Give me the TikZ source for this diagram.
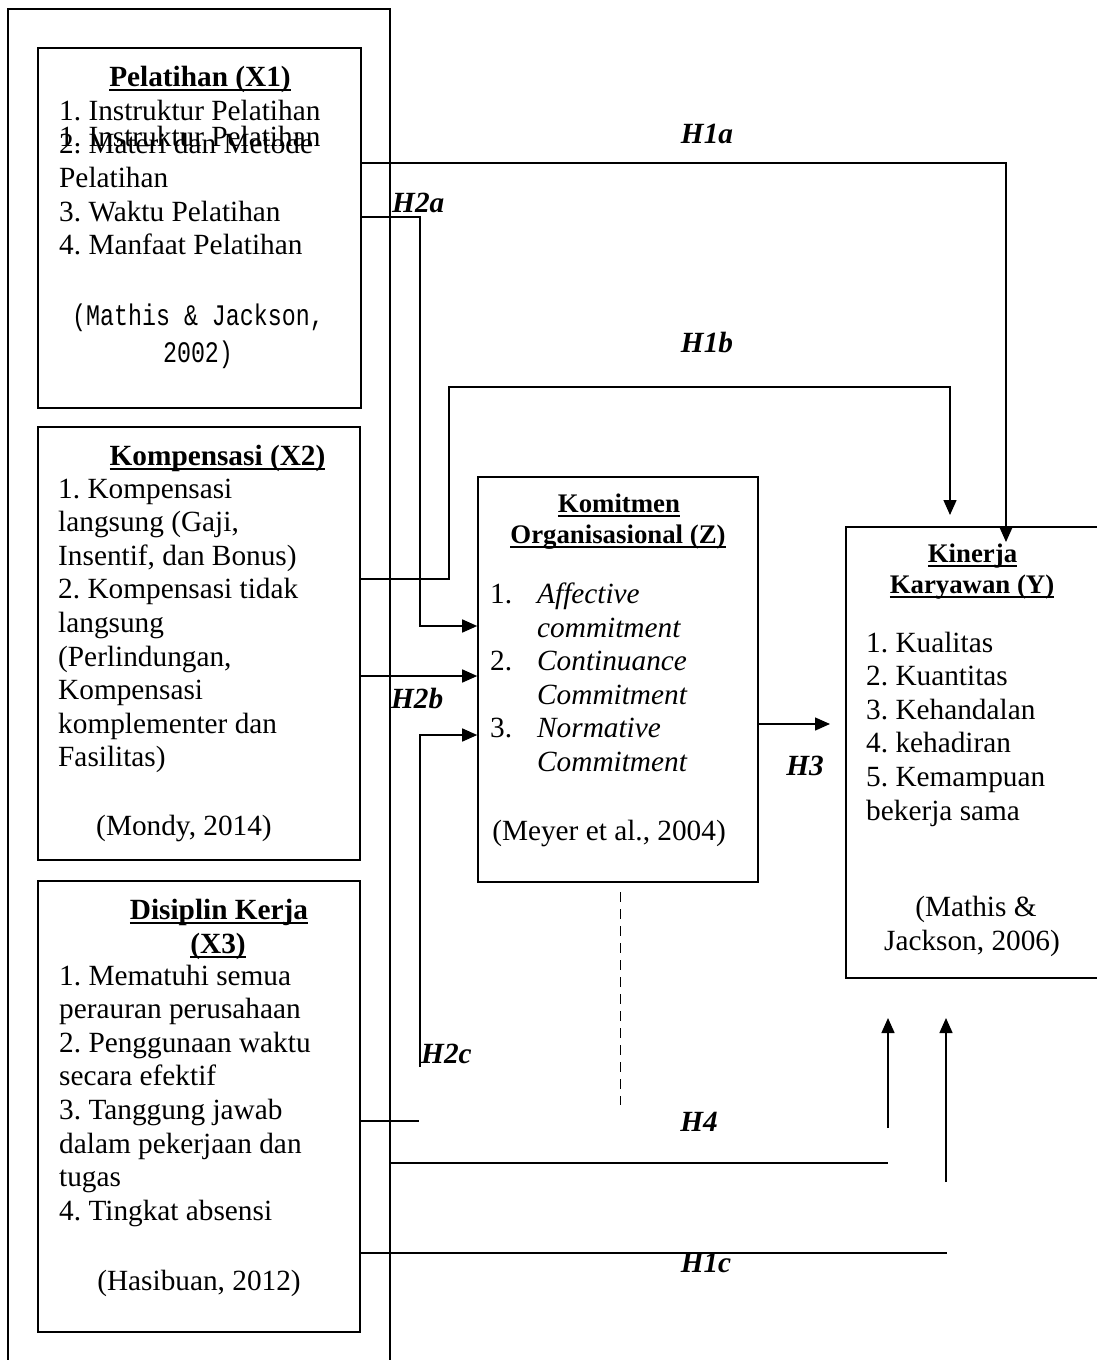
\documentclass[tikz,border=0pt]{standalone}
\usepackage{fontspec}
\usepackage{graphicx}
\setmainfont{Liberation Serif}
\newfontfamily\monofnt{Liberation Mono}
\usetikzlibrary{arrows.meta}
\newcommand\myul[1]{\setbox0\hbox{#1}\rlap{\rule[-4.5pt]{\wd0}{1.6pt}}\box0}
\newcommand\tallmono[1]{\scalebox{1}[1.28]{#1}}
\frenchspacing
\begin{document}
\begin{tikzpicture}[x=1pt,y=-1pt,
  box/.style={draw, line width=1.6pt, inner sep=0pt},
  txt/.style={inner sep=0pt, font=\fontsize{29.3}{33.6}\selectfont},
  ttl/.style={inner sep=0pt, font=\fontsize{29.3}{33.6}\selectfont\bfseries},
  ttls/.style={inner sep=0pt, font=\fontsize{26.8}{31}\selectfont\bfseries},
  itx/.style={inner sep=0pt, font=\fontsize{29.3}{33.6}\selectfont\itshape},
  lbl/.style={inner sep=0pt, font=\fontsize{29.3}{33.6}\selectfont\bfseries\itshape},
  cit/.style={inner sep=0pt, font=\fontsize{23.3}{30}\selectfont\monofnt},
  conn/.style={line width=1.5pt},
  arr/.style={conn, -{Triangle[length=15pt,width=13pt]}},
]
\fill[white] (0,0) rectangle (1096,1360);
\useasboundingbox (0,0) rectangle (1096,1360);

% boxes
\node[box, minimum width=382pt, minimum height=1371pt] (frame) at (199,694.5) {};
\node[box, minimum width=323pt, minimum height=360pt] (x1) at (199.5,228) {};
\node[box, minimum width=322pt, minimum height=433pt] (x2) at (199,643.5) {};
\node[box, minimum width=322pt, minimum height=451pt] (x3) at (199,1106.5) {};
\node[box, minimum width=280pt, minimum height=405pt] (z) at (618,679.5) {};
\node[box, minimum width=274pt, minimum height=451pt] (y) at (983,752.5) {};

% X1 text
\node[ttl, anchor=base] (x1t) at (200,86) {\myul{Pelatihan (X1)}};
\node[txt, anchor=base west] (x1a) at (59,120) {1. Instruktur Pelatihan};
\node[txt, anchor=base west] (x1d) at (59,146) {1. Instruktur Pelatihan};
\node[txt, anchor=base west] (x1b) at (59,153) {2. Materi dan Metode};
\node[txt, anchor=base west] (x1c) at (59,187) {Pelatihan};
\node[txt, anchor=base west] (x1e) at (59,221) {3. Waktu Pelatihan};
\node[txt, anchor=base west] (x1f) at (59,254) {4. Manfaat Pelatihan};
\node[cit, anchor=base] (x1g) at (198,325) {\tallmono{(Mathis \& Jackson,}};
\node[cit, anchor=base] (x1h) at (198,362) {\tallmono{2002)}};

% X2 text
\node[ttl, anchor=base] (x2t) at (217.5,465) {\myul{Kompensasi (X2)}};
\foreach \i/\yy/\t in {1/498/{1. Kompensasi}, 2/531.6/{langsung (Gaji,}, 3/565.2/{Insentif, dan Bonus)}, 4/598.8/{2. Kompensasi tidak}, 5/632.4/{langsung}, 6/666/{(Perlindungan,}, 7/699.6/{Kompensasi}, 8/733.2/{komplementer dan}, 9/766.8/{Fasilitas)}}
  \node[txt, anchor=base west] (x2l\i) at (58,\yy) {\t};
\node[txt, anchor=base] (x2c) at (184,835) {(Mondy, 2014)};

% X3 text
\node[ttl, anchor=base] (x3t) at (219,919) {\myul{Disiplin Kerja}};
\node[ttl, anchor=base] (x3u) at (218,953) {\myul{(X3)}};
\foreach \i/\yy/\t in {1/985/{1. Mematuhi semua}, 2/1018.6/{perauran perusahaan}, 3/1052.2/{2. Penggunaan waktu}, 4/1085.8/{secara efektif}, 5/1119.4/{3. Tanggung jawab}, 6/1153/{dalam pekerjaan dan}, 7/1186.6/{tugas}, 8/1220.2/{4. Tingkat absensi}}
  \node[txt, anchor=base west] (x3l\i) at (59,\yy) {\t};
\node[txt, anchor=base] (x3c) at (199,1290) {(Hasibuan, 2012)};

% Z text
\node[ttls, anchor=base] (zt1) at (619,512) {\myul{Komitmen}};
\node[ttls, anchor=base] (zt2) at (618,543) {\myul{Organisasional (Z)}};
\node[txt, anchor=base west] (zn1) at (490,603) {1.};
\node[itx, anchor=base west] (zi1) at (537,603) {Affective};
\node[itx, anchor=base west] (zi2) at (537,637) {commitment};
\node[txt, anchor=base west] (zn2) at (490,670) {2.};
\node[itx, anchor=base west] (zi3) at (537,670) {Continuance};
\node[itx, anchor=base west] (zi4) at (537,704) {Commitment};
\node[txt, anchor=base west] (zn3) at (490,737) {3.};
\node[itx, anchor=base west] (zi5) at (537,737) {Normative};
\node[itx, anchor=base west] (zi6) at (537,771) {Commitment};
\node[txt, anchor=base] (zc) at (609,840) {(Meyer et al., 2004)};

% Y text
\node[ttls, anchor=base] (yt1) at (972.5,562) {\myul{Kinerja}};
\node[ttls, anchor=base] (yt2) at (972,593) {\myul{Karyawan (Y)}};
\foreach \i/\yy/\t in {1/652/{1. Kualitas}, 2/685.6/{2. Kuantitas}, 3/719.2/{3. Kehandalan}, 4/752.8/{4. kehadiran}, 5/786.4/{5. Kemampuan}, 6/820/{bekerja sama}}
  \node[txt, anchor=base west] (yl\i) at (866,\yy) {\t};
\node[txt, anchor=base] (yc1) at (976,916) {(Mathis \&};
\node[txt, anchor=base] (yc2) at (972,950) {Jackson, 2006)};

% hypothesis labels
\node[lbl, anchor=base] (lh1a) at (707,143) {H1a};
\node[lbl, anchor=base west] (lh2a) at (392,212) {H2a};
\node[lbl, anchor=base] (lh1b) at (707,352) {H1b};
\node[lbl, anchor=base west] (lh2b) at (391,708) {H2b};
\node[lbl, anchor=base] (lh3) at (805,775) {H3};
\node[lbl, anchor=base west] (lh2c) at (421,1063) {H2c};
\node[lbl, anchor=base] (lh4) at (699,1131) {H4};
\node[lbl, anchor=base] (lh1c) at (706,1272) {H1c};

% connector coordinates
\coordinate (h1ak) at (1006,163);
\coordinate (h1at) at (1006,542);
\coordinate (h2ak1) at (420,217);
\coordinate (h2ak2) at (420,626);
\coordinate (h1b1) at (449,579);
\coordinate (h1b2) at (449,387);
\coordinate (h1b3) at (950,387);
\coordinate (h1bt) at (950,515);
\coordinate (h2b) at (420,676);
\coordinate (h2cb) at (420,1067);
\coordinate (h2ck) at (420,735);
\coordinate (x3s) at (419,1121);
\coordinate (h4e) at (888,1163);
\coordinate (ua1b) at (888,1128);
\coordinate (ua1t) at (888,1018);
\coordinate (ua2b) at (946,1182);
\coordinate (ua2t) at (946,1018);
\coordinate (h1ce) at (947,1253);
\coordinate (h3t) at (830,724);
\coordinate (d1) at (620,892);
\coordinate (d2) at (620,1105);

% connectors
\draw[arr] (x1.east |- h1ak) -- (h1ak) -- (h1at);
\draw[arr] (x1.east |- h2ak1) -- (h2ak1) -- (h2ak2) -- (z.west |- h2ak2);
\draw[arr] (x2.east |- h1b1) -- (h1b1) -- (h1b2) -- (h1b3) -- (h1bt);
\draw[arr] (x2.east |- h2b) -- (z.west |- h2b);
\draw[arr] (h2cb) -- (h2ck) -- (z.west |- h2ck);
\draw[conn] (x3.east |- x3s) -- (x3s);
\draw[conn] (frame.east |- h4e) -- (h4e);
\draw[arr] (ua1b) -- (ua1t);
\draw[arr] (ua2b) -- (ua2t);
\draw[conn] (x3.east |- h1ce) -- (h1ce);
\draw[arr] (z.east |- h3t) -- (h3t);
\draw[line width=1pt, dash pattern=on 10pt off 7pt] (d1) -- (d2);
\end{tikzpicture}
\end{document}
